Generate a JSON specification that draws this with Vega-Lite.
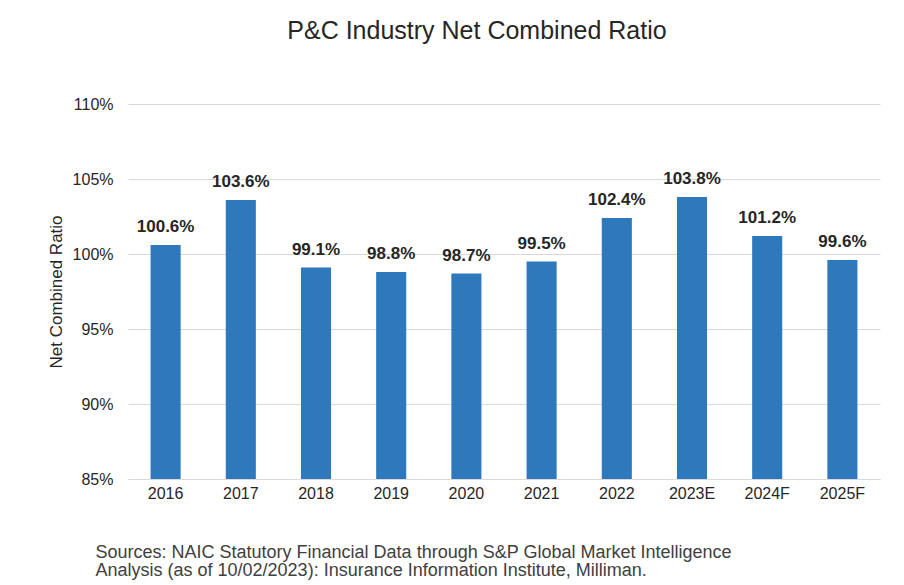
{
  "$schema": "https://vega.github.io/schema/vega-lite/v6.json",
  "autosize": "none",
  "width": 752,
  "height": 375,
  "padding": {"left": 128, "top": 104, "right": 24, "bottom": 106},
  "background": "white",
  "title": {
    "text": "P&C Industry Net Combined Ratio",
    "anchor": "middle",
    "frame": "group",
    "dx": -27,
    "offset": 32,
    "baseline": "alphabetic",
    "font": "Liberation Sans",
    "fontSize": 25,
    "fontWeight": "normal",
    "color": "#262626"
  },
  "data": {
    "values": [
      {"year": "2016", "ratio": 100.6},
      {"year": "2017", "ratio": 103.6},
      {"year": "2018", "ratio": 99.1},
      {"year": "2019", "ratio": 98.8},
      {"year": "2020", "ratio": 98.7},
      {"year": "2021", "ratio": 99.5},
      {"year": "2022", "ratio": 102.4},
      {"year": "2023E", "ratio": 103.8},
      {"year": "2024F", "ratio": 101.2},
      {"year": "2025F", "ratio": 99.6}
    ]
  },
  "encoding": {
    "x": {
      "field": "year",
      "type": "nominal",
      "sort": null,
      "scale": {"paddingInner": 0.6, "paddingOuter": 0.3},
      "axis": {
        "title": ["Sources: NAIC Statutory Financial Data through S&P Global Market Intelligence", "Analysis (as of 10/02/2023): Insurance Information Institute, Milliman."],
        "titleAnchor": "start",
        "titleAlign": "left",
        "titleX": -33,
        "titleY": 78,
        "titleBaseline": "alphabetic",
        "titleFont": "Liberation Sans",
        "titleFontSize": 18,
        "titleFontWeight": "normal",
        "titleColor": "#404040",
        "titleLineHeight": 18,
        "labelAngle": 0,
        "labelFont": "Liberation Sans",
        "labelFontSize": 16,
        "labelColor": "#262626",
        "labelPadding": 6,
        "ticks": false,
        "domain": true,
        "domainColor": "#d9d9d9",
        "domainWidth": 1
      }
    },
    "y": {
      "field": "ratio",
      "type": "quantitative",
      "scale": {"domain": [85, 110], "zero": false},
      "axis": {
        "values": [85, 90, 95, 100, 105, 110],
        "labelExpr": "datum.value + '%'",
        "title": "Net Combined Ratio",
        "titleX": -72,
        "titleY": 187.5,
        "titleAngle": -90,
        "titleBaseline": "middle",
        "titleAlign": "center",
        "titleFont": "Liberation Sans",
        "titleFontSize": 17,
        "titleFontWeight": "normal",
        "titleColor": "#262626",
        "labelFont": "Liberation Sans",
        "labelFontSize": 16,
        "labelColor": "#262626",
        "labelPadding": 15,
        "ticks": false,
        "domain": false,
        "grid": true,
        "gridColor": "#d9d9d9",
        "gridWidth": 1
      }
    }
  },
  "layer": [
    {
      "mark": {"type": "bar", "color": "#2E78BC", "clip": true}
    },
    {
      "mark": {
        "type": "text",
        "baseline": "alphabetic",
        "dy": -13,
        "font": "Liberation Sans",
        "fontSize": 17,
        "fontWeight": "bold",
        "color": "#262626",
        "text": {"expr": "format(datum.ratio, '.1f') + '%'"}
      }
    }
  ],
  "config": {
    "view": {"stroke": null}
  }
}
